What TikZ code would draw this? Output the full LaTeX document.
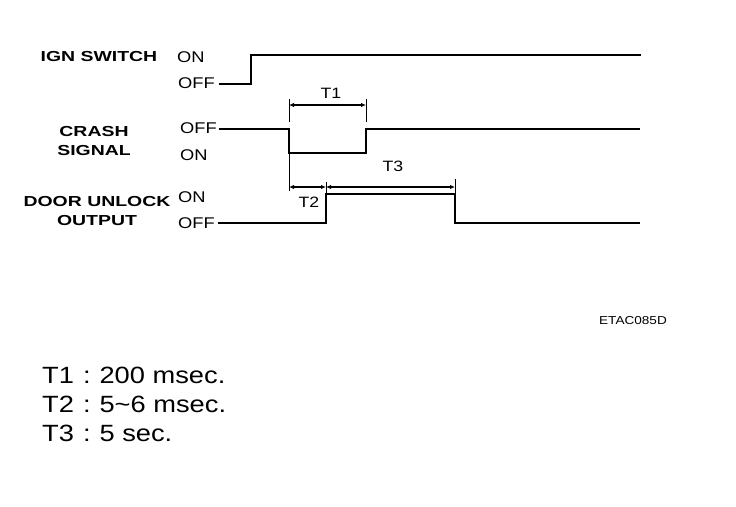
\documentclass[tikz,border=0pt]{standalone}
\usepackage{fontspec}
\setmainfont{Liberation Sans}
\newfontfamily\namefont{Liberation Sans}[FakeStretch=1.34]
\newfontfamily\levelfont{Liberation Sans}[FakeStretch=1.18]
\newfontfamily\notefont{Liberation Sans}[FakeStretch=1.16]
\usetikzlibrary{arrows.meta,positioning}

\begin{document}
\begin{tikzpicture}[x=1pt,y=-1pt,
  sig/.style={line width=1.8pt},
  ext/.style={line width=0.8pt},
  dim/.style={line width=1.6pt,{Latex[length=5pt,width=4.5pt]}-{Latex[length=5pt,width=4.5pt]}},
  signame/.style={font=\namefont\fontsize{14.5}{19.5}\selectfont\bfseries,align=center,inner sep=0pt},
  level/.style={font=\levelfont\fontsize{15.5}{17}\selectfont,anchor=west,inner sep=0pt},
  tlabel/.style={font=\levelfont\fontsize{15}{16}\selectfont,inner sep=0pt},
  timing/.style={font=\notefont\fontsize{23.5}{25}\selectfont,anchor=west,inner sep=0pt}]
\useasboundingbox (0,0) rectangle (736,506);

% signal names and levels
\node[signame] (ign) at (99,57) {IGN SWITCH};
\node[signame] (crash) at (94,141) {CRASH\\SIGNAL};
\node[signame] (door) at (97,211) {DOOR UNLOCK\\OUTPUT};

\node[level] (ign-on) at (177,57) {ON};
\node[level] (ign-off) at (178,83) {OFF};
\node[level] (crash-off) at (180,128) {OFF};
\node[level] (crash-on) at (180,155) {ON};
\node[level] (door-on) at (178,197) {ON};
\node[level] (door-off) at (178,223) {OFF};

% edges
\coordinate (ign-up) at (251,84);
\coordinate (crash-dn) at (289,129);
\coordinate (crash-up) at (366,129);
\coordinate (door-up) at (326,223);
\coordinate (door-dn) at (455,223);

% waveforms
\draw[sig] ([xshift=4pt]ign-off.east |- ign-up) -- (ign-up) -- ++(0,-29) -- (641,55);
\draw[sig] ([xshift=2pt]crash-off.east |- crash-dn) -- (crash-dn) -- ++(0,24) -| (crash-up) -- (640,129);
\draw[sig] ([xshift=3pt]door-off.east |- door-up) -- (door-up) -- ++(0,-29) -| (door-dn) -- (640,223);

% extension lines
\draw[ext] (289,99) -- (289,122);
\draw[ext] (366,99) -- (366,122);
\draw[ext] (crash-dn) -- (289,191);
\draw[ext] (326,182) -- (326,194);
\draw[ext] (455,179) -- (455,194);

% T1, T2, T3
\coordinate (t1a) at (289,105);
\coordinate (t1b) at (366,105);
\coordinate (t2a) at (289,187);
\coordinate (t2b) at (326,187);
\coordinate (t3b) at (455,187);
\draw[dim] (t1a) -- (t1b);
\draw[dim] (t2a) -- (t2b);
\draw[dim] (t2b) -- (t3b);
\node[tlabel] (t1) at (331,93) {T1};
\node[tlabel] (t2) at (309,202) {T2};
\node[tlabel] (t3) at (393,166) {T3};

\node[font=\levelfont\fontsize{11.5}{12}\selectfont] (code) at (633,321) {ETAC085D};

% timing values
\node[timing] (v1) at (42,375) {T1\hspace{9pt}:\hspace{9pt}200 msec.};
\node[timing] (v2) at (42,404) {T2\hspace{9pt}:\hspace{9pt}5\char`~6 msec.};
\node[timing] (v3) at (42,433) {T3\hspace{9pt}:\hspace{9pt}5 sec.};
\end{tikzpicture}
\end{document}
